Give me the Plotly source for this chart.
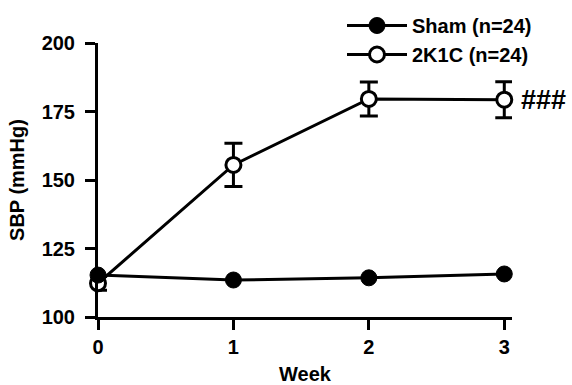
import plotly.graph_objects as go

weeks = [0, 1, 2, 3]
sham = [115.3, 113.5, 114.3, 115.7]
sham_err = [1.5, 1.2, 1.3, 1.4]
k2k1c = [112.3, 155.5, 179.6, 179.3]
k2k1c_err = [2.5, 7.9, 6.2, 6.6]
x_ticks = [0, 1, 2, 3]
y_ticks = [100, 125, 150, 175, 200]

FONT = "Liberation Sans, Arial, sans-serif"
W, H = 572, 385
# plot area in pixels
PL, PR, PT, PB = 98, 512, 43, 317

fig = go.Figure()
fig.add_trace(go.Scatter(
    x=weeks, y=k2k1c, name="2K1C (n=24)", mode="lines+markers",
    line=dict(color="black", width=3),
    marker=dict(symbol="circle", size=15, color="white", line=dict(color="black", width=3)),
    error_y=dict(type="data", array=k2k1c_err, visible=True, color="black", thickness=3, width=9),
    cliponaxis=False, legendrank=2,
))
fig.add_trace(go.Scatter(
    x=weeks, y=sham, name="Sham (n=24)", mode="lines+markers",
    line=dict(color="black", width=3),
    marker=dict(symbol="circle", size=16, color="black", line=dict(color="black", width=1)),
    error_y=dict(type="data", array=sham_err, visible=True, color="black", thickness=3, width=6),
    cliponaxis=False, legendrank=1,
))

fig.add_annotation(x=3, y=k2k1c[3], xref="x", yref="y", text="###", showarrow=False,
                   xanchor="left", xshift=15, font=dict(family=FONT, size=27, color="black", weight="bold"))

fig.update_layout(
    width=W, height=H,
    margin=dict(l=0, r=0, t=0, b=0, pad=0),
    paper_bgcolor="white", plot_bgcolor="white",
    font=dict(family=FONT, size=20, color="black", weight="bold"),
    showlegend=True,
    legend=dict(x=342 / W, y=1 - 6 / H, xanchor="left", yanchor="top",
                bgcolor="rgba(0,0,0,0)", font=dict(family=FONT, size=20, color="black", weight="bold"),
                itemwidth=60, tracegroupgap=0),
    xaxis=dict(domain=[PL / W, PR / W], range=[0, 3.057], tickvals=x_ticks,
               ticktext=[str(v) for v in x_ticks],
               showline=True, linecolor="black", linewidth=3, showgrid=False, zeroline=False,
               ticks="outside", ticklen=10, tickwidth=3, tickcolor="black", automargin=False,
               title=dict(text="Week", standoff=14, font=dict(family=FONT, size=20, weight="bold"))),
    yaxis=dict(domain=[1 - PB / H, 1 - PT / H], range=[100, 200], tickvals=y_ticks,
               ticktext=[str(v) for v in y_ticks],
               showline=True, linecolor="black", linewidth=3, showgrid=False, zeroline=False,
               ticks="outside", ticklen=10, tickwidth=3, tickcolor="black", ticklabelstandoff=6,
               automargin=False,
               title=dict(text="SBP (mmHg)", standoff=12, font=dict(family=FONT, size=20, weight="bold"))),
)

fig.write_html("out.html")
